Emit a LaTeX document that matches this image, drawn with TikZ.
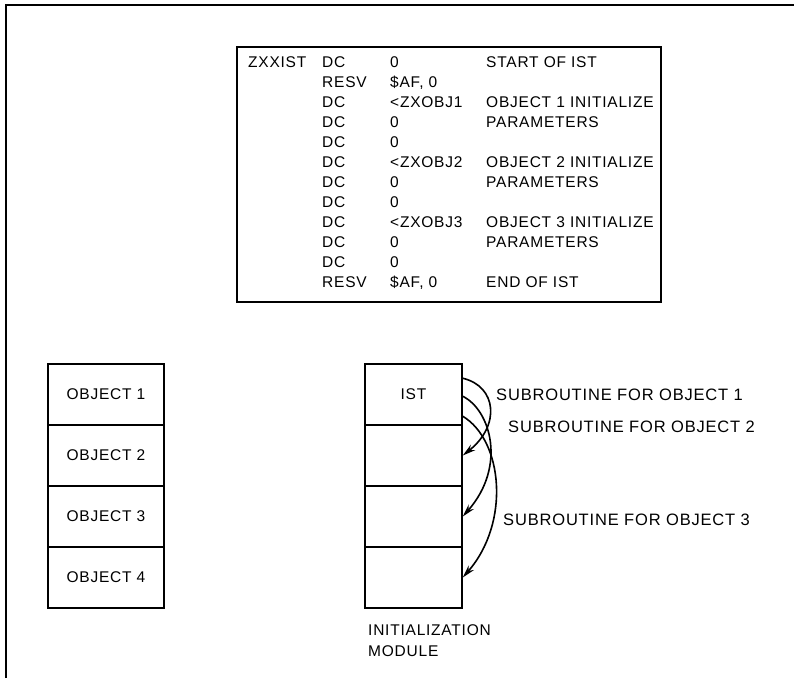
\documentclass[tikz,border=0pt]{standalone}
\usepackage{fontspec}
\setmainfont{Liberation Sans}[LetterSpace=5]
\usetikzlibrary{arrows.meta,calc}
\begin{document}
\begin{tikzpicture}[x=1pt,y=-1pt,
  txt/.style={anchor=west,inner sep=0pt,text height=11.5pt,text depth=0pt,font=\fontsize{15.5}{18}\selectfont},
  big/.style={txt,font=\fontsize{16.5}{19}\selectfont},
  cell/.style={draw,line width=1.5pt,minimum width=116pt,minimum height=61pt,inner sep=0pt,font=\fontsize{15.5}{18}\selectfont},
  icell/.style={draw,line width=1.5pt,minimum width=97pt,minimum height=61pt,inner sep=0pt,font=\fontsize{15.5}{18}\selectfont},
  sub/.style={-{Stealth[length=13pt,width=7pt]},line width=1.6pt}]
\useasboundingbox (0,0) rectangle (794,678);
% outer frame
\coordinate (fbl) at (6,678);
\coordinate (ftl) at (6,5);
\coordinate (ftr) at (794,5);
\draw[line width=1.6pt] (fbl) -- (ftl) -- (ftr);
% code box
\node[draw,line width=1.5pt,minimum width=424pt,minimum height=255pt,anchor=north west,inner sep=0pt] (code) at (236,46) {};
\foreach \i/\a/\b/\c/\d in {0/ZXXIST/DC/0/START OF IST,
  1//RESV/{\$AF, 0}/,
  2//DC/{<ZXOBJ1}/OBJECT 1 INITIALIZE,
  3//DC/0/PARAMETERS,
  4//DC/0/,
  5//DC/{<ZXOBJ2}/OBJECT 2 INITIALIZE,
  6//DC/0/PARAMETERS,
  7//DC/0/,
  8//DC/{<ZXOBJ3}/OBJECT 3 INITIALIZE,
  9//DC/0/PARAMETERS,
  10//DC/0/,
  11//RESV/{\$AF, 0}/END OF IST}{
  \node[txt] (ra\i) at (248,62+20*\i) {\a};
  \node[txt] (rb\i) at (322,62+20*\i) {\b};
  \node[txt] (rc\i) at (390,62+20*\i) {\c};
  \node[txt] (rd\i) at (486,62+20*\i) {\d};
}
% object column
\node[cell] (o1) at (106,394.5) {OBJECT 1};
\node[cell] (o2) at (106,455.5) {OBJECT 2};
\node[cell] (o3) at (106,516.5) {OBJECT 3};
\node[cell] (o4) at (106,577.5) {OBJECT 4};
% initialization module
\node[icell] (i1) at (413.5,394.5) {IST};
\node[icell] (i2) at (413.5,455.5) {};
\node[icell] (i3) at (413.5,516.5) {};
\node[icell] (i4) at (413.5,577.5) {};
\node[txt] (im1) at (368,630) {INITIALIZATION};
\node[txt] (im2) at (368,651) {MODULE};
% subroutine labels
\node[big] (s1) at (496,395) {SUBROUTINE FOR OBJECT 1};
\node[big] (s2) at (508,427) {SUBROUTINE FOR OBJECT 2};
\node[big] (s3) at (503,520) {SUBROUTINE FOR OBJECT 3};
% arrows
\coordinate (a1) at ($(i1.north east)+(0,15)$);
\coordinate (a2) at ($(i1.north east)+(0,33)$);
\coordinate (a3) at ($(i1.north east)+(0,53)$);
\draw[sub] (a1) .. controls ($(a1)+(34,8)$) and ($(i2.east)+(38,-30)$) .. (i2.east);
\draw[sub] (a2) .. controls ($(a2)+(28,14)$) and ($(i3.east)+(44,-50)$) .. (i3.east);
\draw[sub] (a3) .. controls ($(a3)+(40,24)$) and ($(i4.east)+(48,-55)$) .. (i4.east);
\end{tikzpicture}
\end{document}
